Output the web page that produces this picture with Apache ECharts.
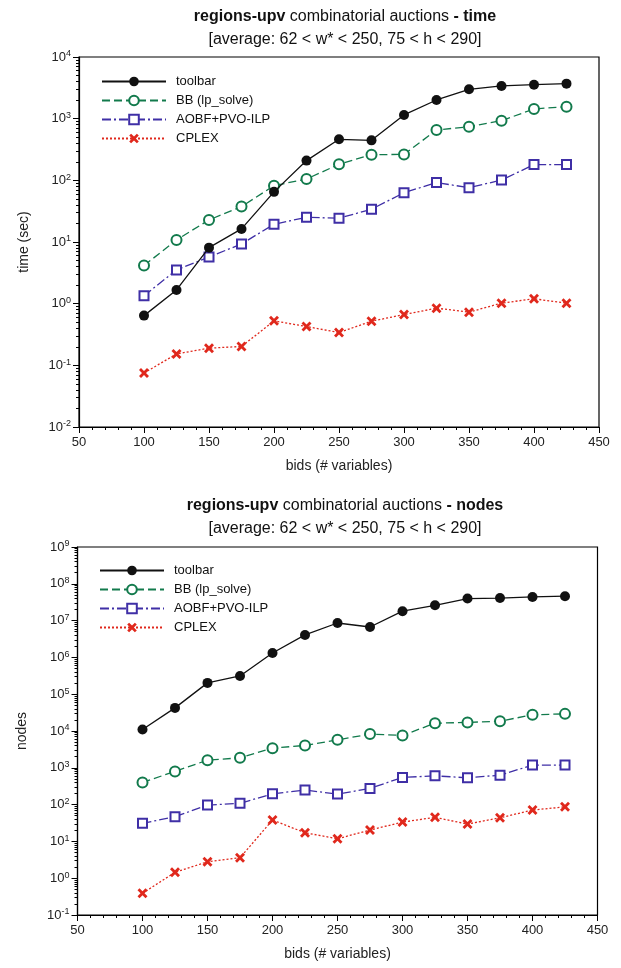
<!DOCTYPE html>
<html>
<head>
<meta charset="utf-8">
<script src="https://cdn.jsdelivr.net/npm/echarts@6/dist/echarts.min.js"></script>
<style>html,body{margin:0;padding:0;background:#fff}#c{width:621px;height:968px}</style>
</head>
<body>
<div id="c"></div>
<script>
const bids = [100,125,150,175,200,225,250,275,300,325,350,375,400,425];
const seriesNames = ['toolbar','BB (lp_solve)','AOBF+PVO-ILP','CPLEX'];
// time (sec)
const timeToolbar = [0.64,1.67,8.1,16.3,65,209,463,445,1150,2010,2990,3390,3560,3700];
const timeBB      = [4.15,10.8,22.8,37.5,82,105,182,261,263,656,741,929,1436,1567];
const timeAOBF    = [1.34,3.53,5.7,9.3,19.4,25.2,24.3,34,63,92,76,101,180,180];
const timeCPLEX   = [0.075,0.153,0.19,0.202,0.526,0.426,0.34,0.52,0.665,0.845,0.728,1.02,1.2,1.02];
// nodes
const nodesToolbar = [11000,42500,203000,314000,1.32e6,4.08e6,8.6e6,6.7e6,1.8e7,2.6e7,3.97e7,4.1e7,4.4e7,4.6e7];
const nodesBB      = [401,798,1615,1866,3420,4050,5750,8230,7570,16300,17100,18500,27500,29200];
const nodesAOBF    = [30.9,46.7,97,108,197,248,193,275,548,605,535,631,1183,1183];
const nodesCPLEX   = [0.388,1.44,2.8,3.6,38,17.2,11.8,20.3,33.5,45,29.6,43.8,71,87];
const timeDecades  = [0.01,0.1,1,10,100,1000,10000];
const nodeDecades  = [0.1,1,10,100,1000,1e4,1e5,1e6,1e7,1e8,1e9];

function minorVals(decs){
  const out=[];
  for(let i=0;i<decs.length-1;i++){for(let k=2;k<=9;k++){out.push(+(decs[i]*k).toPrecision(3));}}
  return out;
}
const FONT = '"Liberation Sans", Arial, sans-serif';
const xMark = 'path://M2,0 L5,3 L8,0 L10,2 L7,5 L10,8 L8,10 L5,7 L2,10 L0,8 L3,5 L0,2 Z';
const styles = [
  {color:'#111111', symbol:'circle', symbolSize:10, line:{type:'solid',width:1.3}},
  {color:'#127a4c', symbol:'emptyCircle', symbolSize:10, line:{type:[8,4],width:1.3}},
  {color:'#3f2fa6', symbol:'emptyRect', symbolSize:9, line:{type:[9,3,2,3],width:1.3}},
  {color:'#e0281c', symbol:xMark, symbolSize:10, line:{type:[2,2],width:1.3}}
];
function mk(data, si, gi){
  const st = styles[si];
  return {
    name: seriesNames[si], type:'line', xAxisIndex: gi, yAxisIndex: gi,
    data: bids.map((b,i)=>[b,data[i]]),
    symbol: st.symbol, symbolSize: st.symbolSize, showAllSymbol:true,
    itemStyle:{color: st.color, borderWidth: 1.5},
    lineStyle:{color: st.color, type: st.line.type, width: st.line.width},
    z: 10-si, animation:false
  };
}
function yLabelFmt(v){ const e=Math.round(Math.log10(v)); return '{b|10}{s|'+e+'}'; }
const labelRich = {
  b:{fontSize:13, fontFamily:FONT, color:'#222', lineHeight:15},
  s:{fontSize:9, fontFamily:FONT, color:'#222', lineHeight:9, verticalAlign:'top'}
};
function yMajor(gi, mn, mx, decs, name){
  return {type:'log', gridIndex:gi, position:'left', logBase:10, min:mn, max:mx, name:name, nameLocation:'middle', nameGap:48,
     nameTextStyle:{fontSize:14, fontFamily:FONT, color:'#222'},
     axisLine:{show:true, lineStyle:{color:'#000', width:1.2}},
     axisTick:{show:true, inside:false, length:6, lineStyle:{color:'#000'}, customValues:decs},
     axisLabel:{show:true, margin:8, formatter:yLabelFmt, rich:labelRich, customValues:decs},
     splitLine:{show:false}};
}
function yMinor(gi, mn, mx, decs){
  return {type:'log', gridIndex:gi, position:'left', logBase:10, min:mn, max:mx,
     axisLine:{show:false}, axisLabel:{show:false}, splitLine:{show:false},
     axisTick:{show:true, inside:false, length:3, lineStyle:{color:'#000', width:1}, customValues:minorVals(decs)}};
}
function xAxis(gi, hidden){
  if (hidden) return {type:'value', gridIndex:gi, min:50, max:450, show:false};
  return {type:'value', gridIndex:gi, min:50, max:450, interval:50,
    name:'bids (# variables)', nameLocation:'middle', nameGap:32,
    nameTextStyle:{fontSize:14, fontFamily:FONT, color:'#222'},
    axisLine:{show:true, onZero:false, lineStyle:{color:'#000', width:1.2}},
    axisTick:{show:true, inside:false, length:6, lineStyle:{color:'#000'}},
    minorTick:{show:true, splitNumber:5, length:3, lineStyle:{color:'#000'}},
    axisLabel:{fontSize:13, fontFamily:FONT, color:'#222', margin:9},
    splitLine:{show:false}};
}
function titles(top, word){
  return [
    {text:'{b|regions-upv} combinatorial auctions {b|- '+word+'}', left:340, top:top, textAlign:'center',
     textStyle:{fontSize:16, fontWeight:'normal', fontFamily:FONT, color:'#111',
       rich:{b:{fontSize:16, fontWeight:'bold', fontFamily:FONT, color:'#111'}}}},
    {text:'[average: 62 < w* < 250, 75 < h < 290]', left:340, top:top+23, textAlign:'center',
     textStyle:{fontSize:16, fontWeight:'normal', fontFamily:FONT, color:'#111'}}
  ];
}
function legend(top, left){
  return {orient:'vertical', left:left, top:top, itemWidth:64, itemHeight:12, itemGap:6,
    data:seriesNames, selectedMode:false,
    textStyle:{fontSize:13, fontFamily:FONT, color:'#111', padding:[0,0,0,5]}};
}
const g0 = {left:79, top:57, width:520, height:370};
const g1 = {left:77.5, top:547, width:520, height:368};
const chart = echarts.init(document.getElementById('c'), null, {renderer:'canvas'});
chart.setOption({
  animation:false,
  backgroundColor:'#fff',
  title:[...titles(4,'time'), ...titles(493,'nodes')],
  legend:[legend(70,96), legend(559,94)],
  grid:[
    Object.assign({show:true, borderColor:'#000', borderWidth:1.2, backgroundColor:'transparent'}, g0),
    Object.assign({show:true, borderColor:'#000', borderWidth:1.2, backgroundColor:'transparent'}, g1),
    Object.assign({show:false}, g0),
    Object.assign({show:false}, g1)
  ],
  xAxis:[xAxis(0), xAxis(1), xAxis(2,true), xAxis(3,true)],
  yAxis:[yMajor(0,0.01,10000,timeDecades,'time (sec)'), yMajor(1,0.1,1e9,nodeDecades,'nodes'),
         yMinor(2,0.01,10000,timeDecades), yMinor(3,0.1,1e9,nodeDecades)],
  series:[
    mk(timeToolbar,0,0), mk(timeBB,1,0), mk(timeAOBF,2,0), mk(timeCPLEX,3,0),
    mk(nodesToolbar,0,1), mk(nodesBB,1,1), mk(nodesAOBF,2,1), mk(nodesCPLEX,3,1)
  ]
});
</script>
</body>
</html>
